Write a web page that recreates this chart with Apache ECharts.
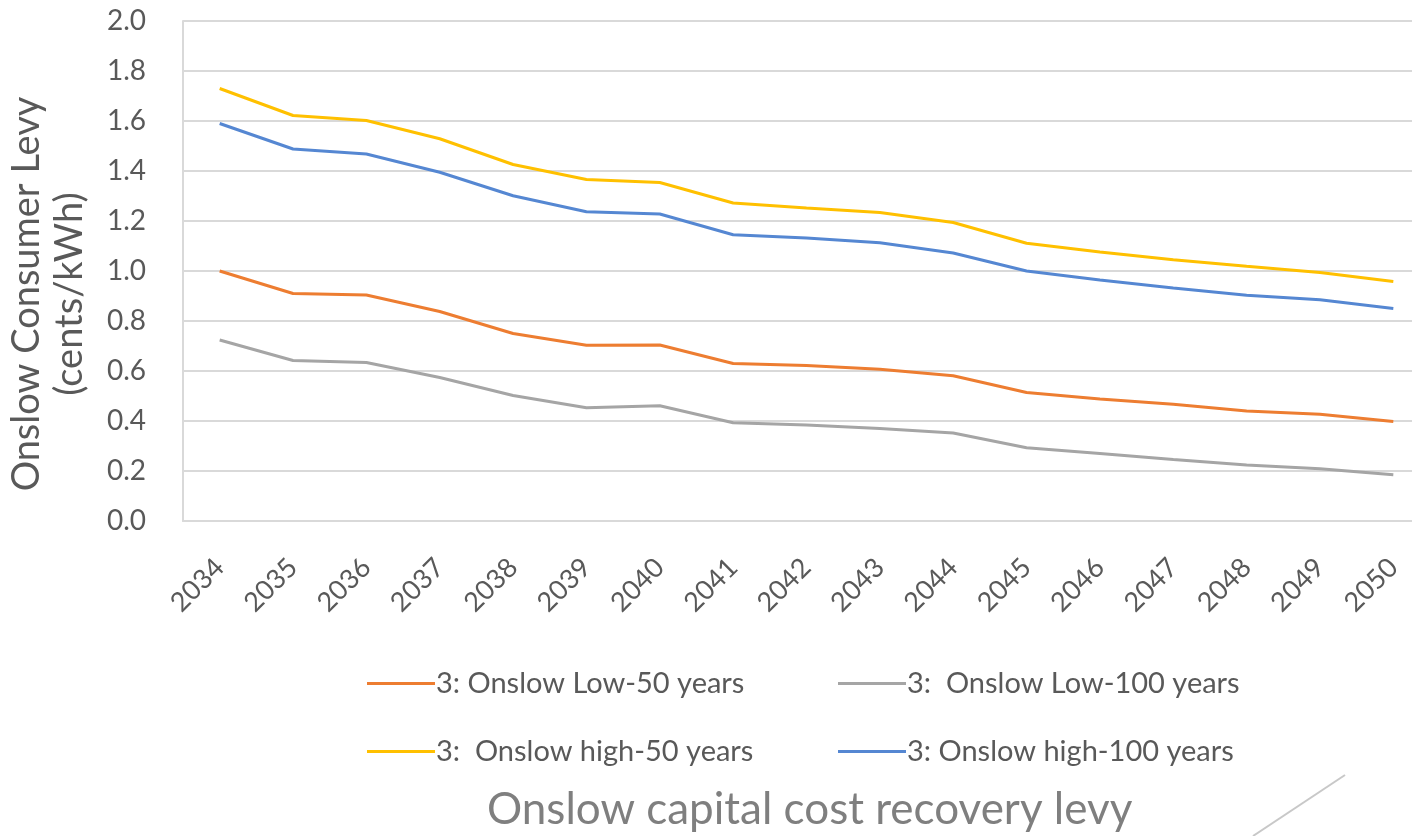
<!DOCTYPE html>
<html>
<head>
<meta charset="utf-8">
<script src="https://cdn.jsdelivr.net/npm/echarts@6/dist/echarts.min.js"></script>
<style>
  html, body { margin: 0; padding: 0; background: #ffffff; }
  #chart { width: 1412px; height: 836px; }
</style>
</head>
<body>
<div id="chart"></div>
<script>
// Years on the category axis
const years = ['2034','2035','2036','2037','2038','2039','2040','2041','2042',
               '2043','2044','2045','2046','2047','2048','2049','2050'];

// Levy in cents/kWh for each scenario
const low50  = [1.00, 0.91, 0.904, 0.838, 0.75, 0.703, 0.704, 0.63, 0.622, 0.607, 0.581, 0.514, 0.488, 0.467, 0.44, 0.427, 0.398];
const low100 = [0.724, 0.642, 0.634, 0.574, 0.502, 0.453, 0.461, 0.393, 0.384, 0.37, 0.352, 0.293, 0.27, 0.246, 0.224, 0.209, 0.185];
const high50 = [1.73, 1.622, 1.602, 1.529, 1.426, 1.366, 1.354, 1.272, 1.252, 1.234, 1.194, 1.111, 1.076, 1.045, 1.019, 0.994, 0.958];
const high100 = [1.59, 1.488, 1.468, 1.395, 1.301, 1.237, 1.228, 1.145, 1.132, 1.113, 1.072, 1.0, 0.964, 0.932, 0.903, 0.885, 0.85];

const seriesNames = ['3: Onslow Low-50 years', '3:  Onslow Low-100 years',
                     '3:  Onslow high-50 years', '3: Onslow high-100 years'];
const seriesColors = ['#ED7D31', '#A5A5A5', '#FFC000', '#5587D2'];
const seriesData = [low50, low100, high50, high100];

const yTicks = { min: 0, max: 2.0, interval: 0.2 };

const FONT = 'Lato';
const TEXT = '#595959';

const chart = echarts.init(document.getElementById('chart'), null, { renderer: 'canvas' });

function legendAt(idx, left, top) {
  return {
    data: [seriesNames[idx]],
    left: left, top: top,
    orient: 'horizontal',
    icon: 'rect',
    itemWidth: 68, itemHeight: 3,
    itemGap: 0,
    selectedMode: false,
    textStyle: { fontFamily: FONT, fontSize: 29, color: TEXT, padding: [0, 0, 0, -4] }
  };
}

const option = {
  backgroundColor: '#ffffff',
  animation: false,
  title: {
    text: 'Onslow capital cost recovery levy',
    left: 482, top: 783,
    textStyle: { fontFamily: FONT, fontSize: 44, fontWeight: 'normal', color: '#7F7F7F' }
  },
  legend: [
    legendAt(0, 362, 664),
    legendAt(1, 833, 664),
    legendAt(2, 362, 732),
    legendAt(3, 833, 732)
  ],
  grid: { left: 183, top: 21, height: 500, width: 1247, outerBoundsMode: 'none', containLabel: false },
  xAxis: {
    type: 'category',
    data: years,
    boundaryGap: true,
    axisLine: { show: true, lineStyle: { color: '#D9D9D9', width: 2 } },
    axisTick: { show: false },
    axisLabel: {
      rotate: 45, margin: 42, interval: 0,
      fontFamily: FONT, fontSize: 27, color: TEXT
    }
  },
  yAxis: {
    type: 'value',
    min: yTicks.min, max: yTicks.max, interval: yTicks.interval,
    name: 'Onslow Consumer Levy\n(cents/kWh)',
    nameLocation: 'middle',
    nameRotate: 90,
    nameGap: 92,
    nameTextStyle: { fontFamily: FONT, fontSize: 38, color: TEXT, lineHeight: 43, padding: [0, 46, 0, 0] },
    axisLine: { show: true, lineStyle: { color: '#D9D9D9', width: 2 } },
    axisTick: { show: false },
    splitLine: { show: true, lineStyle: { color: '#D9D9D9', width: 2 } },
    axisLabel: {
      margin: 37,
      fontFamily: FONT, fontSize: 28, color: TEXT,
      formatter: v => v.toFixed(1)
    }
  },
  series: seriesData.map((d, i) => ({
    name: seriesNames[i],
    type: 'line',
    data: d,
    symbol: 'none',
    lineStyle: { color: seriesColors[i], width: 3 },
    itemStyle: { color: seriesColors[i] }
  })),
  graphic: [{
    type: 'line',
    shape: { x1: 1253, y1: 836, x2: 1345, y2: 775 },
    style: { stroke: '#C8C8C8', lineWidth: 2 }
  }]
};

chart.setOption(option);
</script>
</body>
</html>
